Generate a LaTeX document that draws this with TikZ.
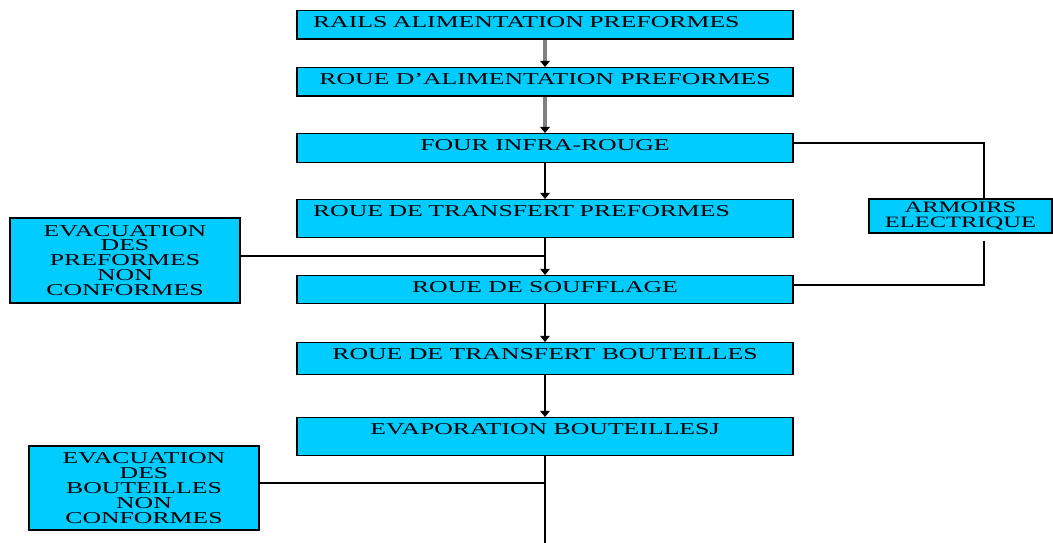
\documentclass[tikz,border=0pt]{standalone}
\usepackage{fontspec}
\newfontfamily\chartfont[FakeStretch=1.55]{Liberation Serif}
\usepackage{tikz}
\usetikzlibrary{arrows.meta,calc,positioning}
\definecolor{boxcyan}{RGB}{0,204,255}

\begin{document}
\begin{tikzpicture}[
    x=0.02cm, y=-0.02cm,
    box/.style   = {draw, fill=boxcyan, line width=0.8pt,
                    font=\chartfont\fontsize{9.45}{8.5}\selectfont},
    main/.style  = {box, anchor=north, minimum width=9.92cm,
                    inner xsep=0.32cm, inner ysep=0pt, text height=0.33cm},
    side/.style  = {box, align=center, inner sep=0pt,
                    minimum width=4.6cm, minimum height=1.7cm},
    flow/.style  = {line width=0.6pt, -{Triangle[length=3.5pt,width=5.5pt]}},
    feed/.style  = {line width=2.2pt, draw=gray,
                    -{Triangle[length=3.5pt,width=5.5pt,color=black]}},
    link/.style  = {line width=0.6pt}
  ]
  \useasboundingbox (0,0) rectangle (1053,543);

  %–––– main column ––––
  \node[main, text depth=0.24cm, text width=9.28cm, align=left]
       (rails)   at (545, 10) {RAILS ALIMENTATION PREFORMES};
  \node[main, text depth=0.24cm] (alim)    at (545, 67) {ROUE D’ALIMENTATION PREFORMES};
  \node[main, text depth=0.25cm] (four)    at (545,133) {FOUR INFRA-ROUGE};
  \node[main, text depth=0.43cm, text width=9.28cm, align=left]
       (transfp) at (545,199) {ROUE DE TRANSFERT PREFORMES};
  \node[main, text depth=0.23cm] (souff)   at (545,275) {ROUE DE SOUFFLAGE};
  \node[main, text depth=0.31cm] (transfb) at (545,342) {ROUE DE TRANSFERT BOUTEILLES};
  \node[main, text depth=0.43cm] (evap)    at (545,417) {EVAPORATION BOUTEILLESJ};

  %–––– side boxes ––––
  \node[side] (evacp) at (125,260.5) {EVACUATION\\DES\\PREFORMES\\NON\\CONFORMES};
  \node[side, minimum height=1.68cm] (evacb) at (144,488) {EVACUATION\\DES\\BOUTEILLES\\NON\\CONFORMES};
  \node[box, align=center, inner sep=0pt, minimum width=3.66cm, minimum height=0.68cm,
        font=\chartfont\fontsize{9}{8.2}\selectfont]
       (armoire) at (960.5,216) {ARMOIRS\\ELECTRIQUE};

  %–––– helper points ––––
  \coordinate (jp)  at (545,256);
  \coordinate (jb)  at (545,483);
  \coordinate (end) at (545,545);
  \coordinate (kf)  at (984,143);
  \coordinate (ks)  at (984,285);

  %–––– flow ––––
  \draw[feed] (rails) -- (alim);
  \draw[feed] (alim)  -- (four);
  \draw[flow] (four)  -- (transfp);
  \draw[flow] (transfp) -- (souff);
  \draw[flow] (souff) -- (transfb);
  \draw[flow] (transfb) -- (evap);
  \draw[link] (evap) -- (end);

  % rejects
  \draw[link] (evacp.east |- jp) -- (jp);
  \draw[link] (evacb.east |- jb) -- (jb);

  % electrical cabinet
  \draw[link] (four.east |- kf) -- (kf) -- (kf |- armoire.north);
  \draw[link] ([yshift=-4]kf |- armoire.south) -- (ks) -- (souff.east |- ks);
\end{tikzpicture}
\end{document}
